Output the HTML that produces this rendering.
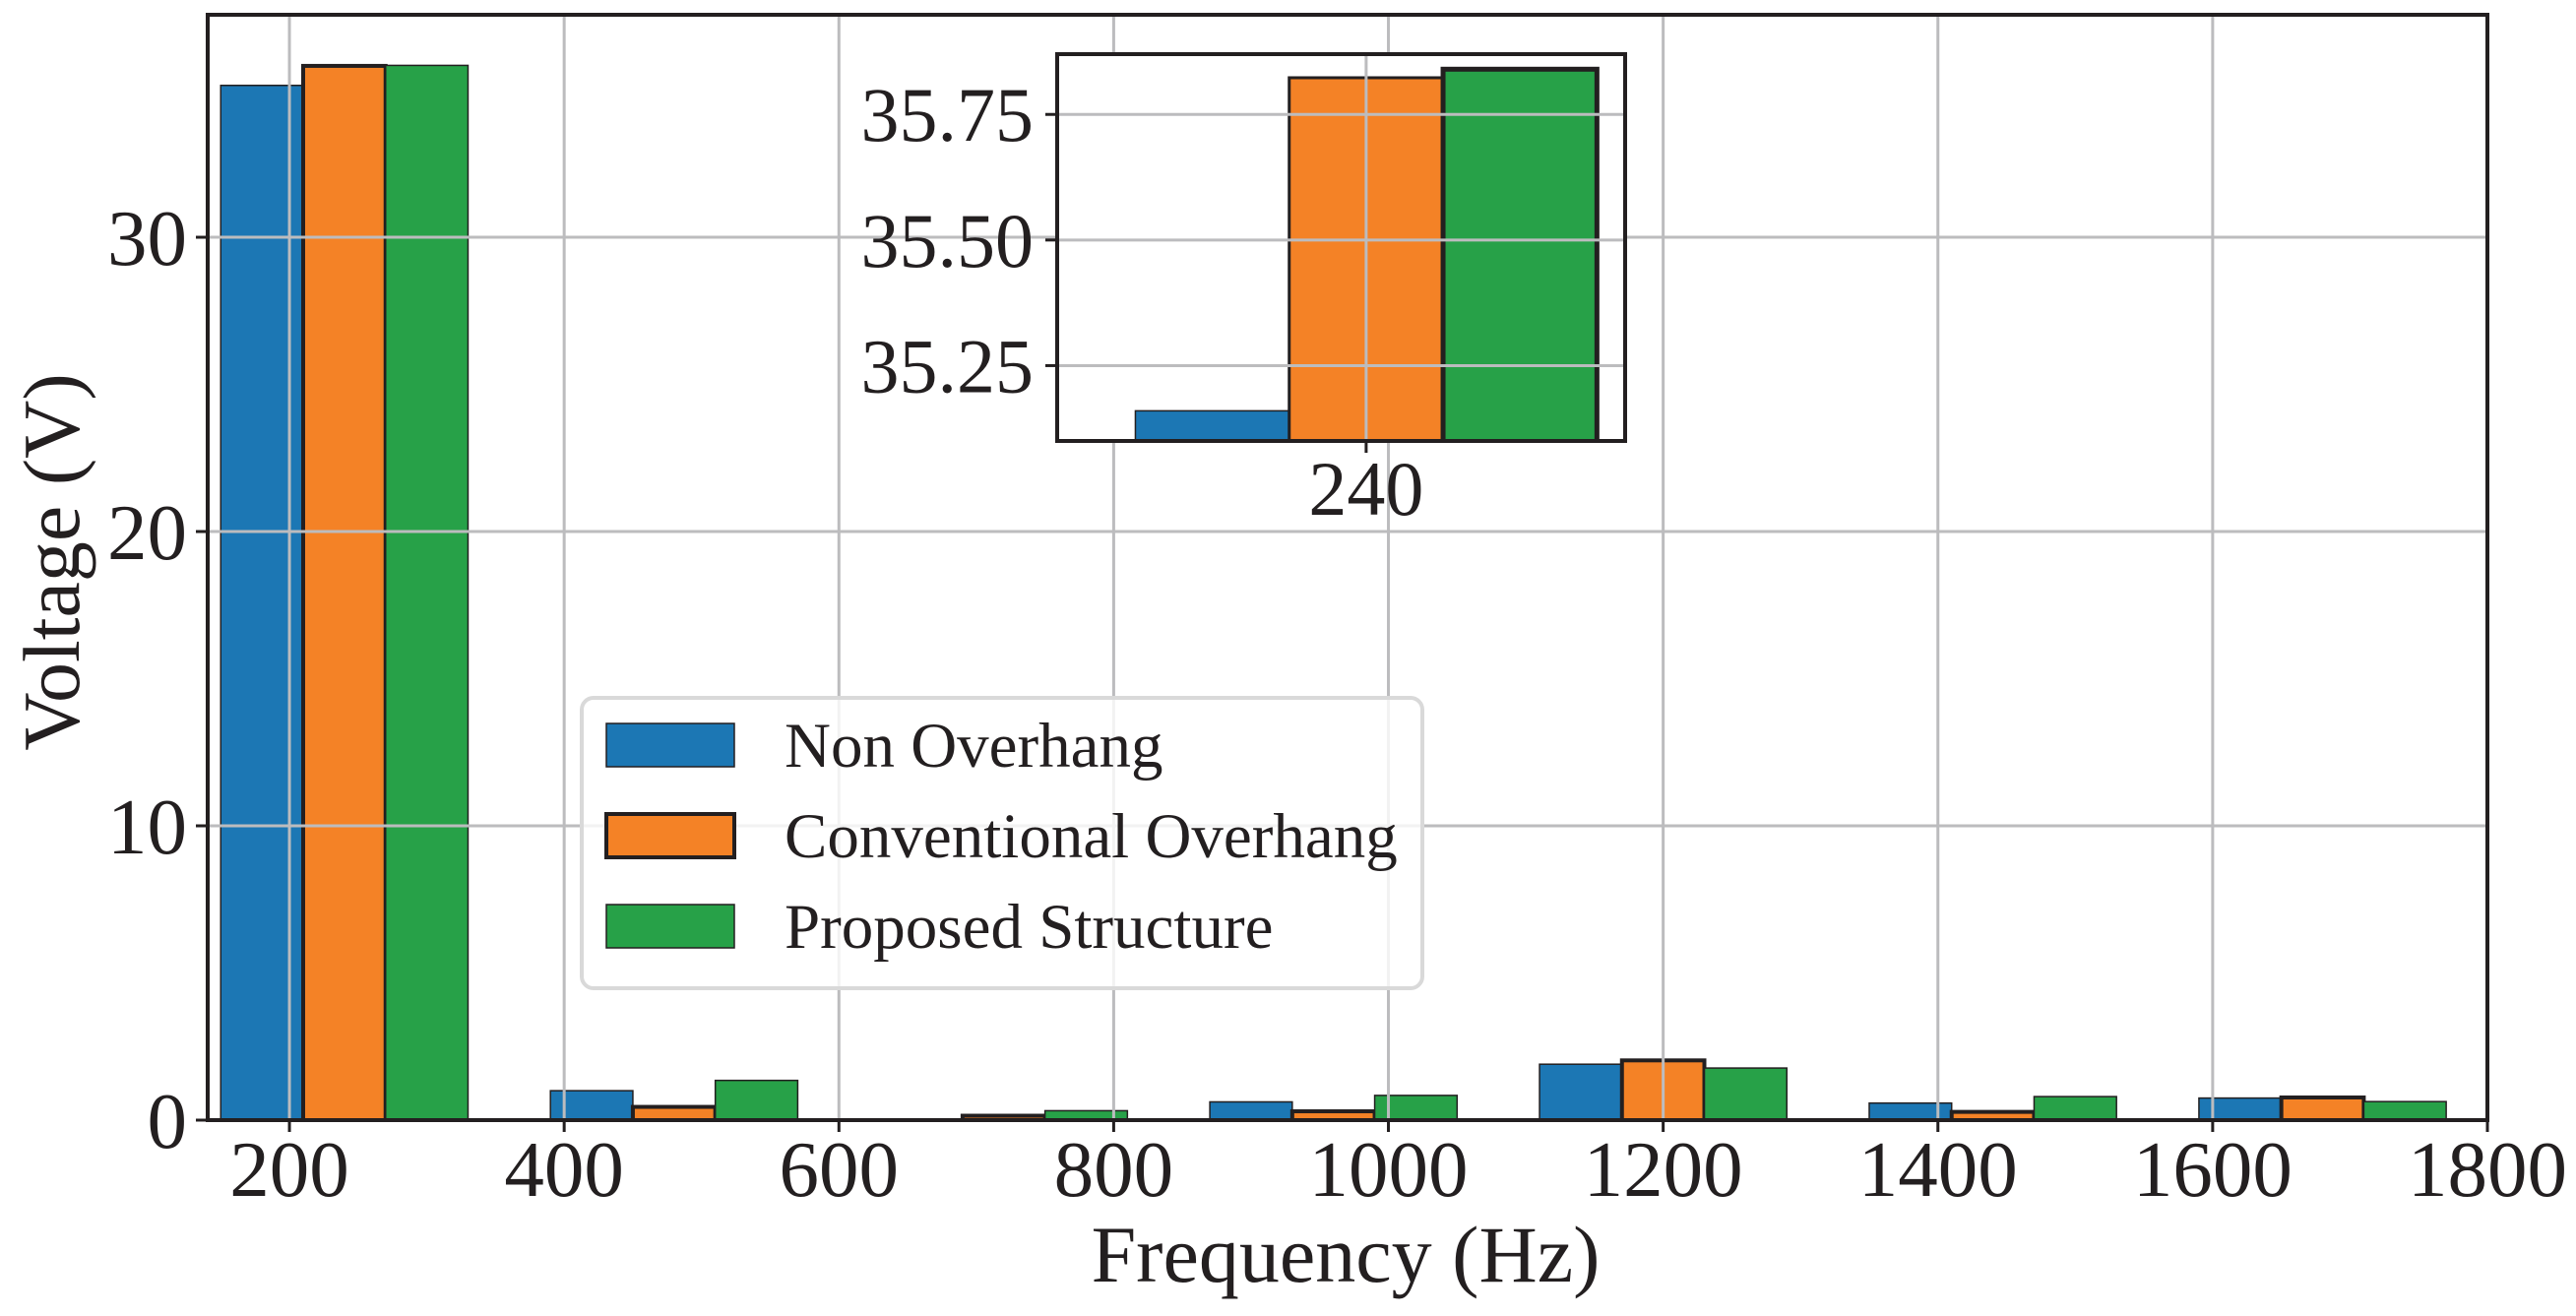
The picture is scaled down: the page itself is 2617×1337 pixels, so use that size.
<!DOCTYPE html>
<html><head><meta charset="utf-8"><style>
html,body{margin:0;padding:0;background:#fff;}
svg{display:block;font-family:"Liberation Serif","Times New Roman",serif;}
</style></head><body>
<svg id="chart" width="2617" height="1337" viewBox="0 0 2617 1337" xmlns="http://www.w3.org/2000/svg"></svg>
<script>
const categories = [240, 480, 720, 960, 1200, 1440, 1680];
const seriesNames = ["Non Overhang", "Conventional Overhang", "Proposed Structure"];
const nonOverhang = [35.16, 1.0, 0.04, 0.62, 1.9, 0.58, 0.75];
const conventional = [35.823, 0.45, 0.15, 0.3, 2.03, 0.28, 0.77];
const proposed = [35.84, 1.35, 0.32, 0.84, 1.77, 0.8, 0.63];
const xTicks = [200, 400, 600, 800, 1000, 1200, 1400, 1600, 1800];
const yTicks = [0, 10, 20, 30];
const insetYTicks = [35.25, 35.50, 35.75];
const insetYTickLabels = ["35.25", "35.50", "35.75"];
const insetXTicks = [240];

const NS = "http://www.w3.org/2000/svg";
const svg = document.getElementById("chart");
const colors = ["#1c77b4", "#f48226", "#27a148"];
const mainEdge = [1.5, 4, 1.5];
const insetEdge = [1.5, 3, 5];
const barW = 60;
const series = [nonOverhang, conventional, proposed];

function mk(tag, attrs, parent) {
  const e = document.createElementNS(NS, tag);
  for (const k in attrs) e.setAttribute(k, attrs[k]);
  (parent || svg).appendChild(e);
  return e;
}

// main axes
const M = {x0: 211, x1: 2527, y0: 1138, y1: 15, xmin: 140.5, xmax: 1800, ymin: 0, ymax: 37.56};
const sx = v => M.x0 + (v - M.xmin) / (M.xmax - M.xmin) * (M.x1 - M.x0);
const sy = v => M.y0 - (v - M.ymin) / (M.ymax - M.ymin) * (M.y0 - M.y1);

const gMain = mk("g", {});



// bars
series.forEach((vals, s) => {
  categories.forEach((c, i) => {
    const xl = sx(c + (s - 1) * barW - barW / 2), xr = sx(c + (s - 1) * barW + barW / 2);
    const r = mk("rect", {x: xl, y: sy(vals[i]), width: xr - xl, height: sy(0) - sy(vals[i]), fill: colors[s], stroke: "#231f20", "stroke-width": mainEdge[s]}, gMain);
    
    
  });
});

// grid
xTicks.forEach(t => {
  const l = mk("line", {x1: sx(t), x2: sx(t), y1: M.y1, y2: M.y0, stroke: "#bcbcbe", "stroke-width": 3}, gMain);
  
  
});
yTicks.forEach(t => {
  const l = mk("line", {x1: M.x0, x2: M.x1, y1: sy(t), y2: sy(t), stroke: "#bcbcbe", "stroke-width": 3}, gMain);
  
  
});

// spines
const frame = mk("rect", {x: M.x0, y: M.y1, width: M.x1 - M.x0, height: M.y0 - M.y1, fill: "none", stroke: "#231f20", "stroke-width": 4}, gMain);



// ticks + labels
xTicks.forEach(t => {
  mk("line", {x1: sx(t), x2: sx(t), y1: M.y0, y2: M.y0 + 12, stroke: "#231f20", "stroke-width": 3}, gMain);
  const tx = mk("text", {x: sx(t), y: 1215, "font-size": 81, "text-anchor": "middle", fill: "#231f20"}, gMain);
  tx.textContent = t;
  
  
});
yTicks.forEach(t => {
  mk("line", {x1: M.x0 - 12, x2: M.x0, y1: sy(t), y2: sy(t), stroke: "#231f20", "stroke-width": 3}, gMain);
  const tx = mk("text", {x: 190, y: sy(t) + 28, "font-size": 81, "text-anchor": "end", fill: "#231f20"}, gMain);
  tx.textContent = t;
  
  
});

const xl = mk("text", {x: 1367, y: 1302, "font-size": 82, "text-anchor": "middle", fill: "#231f20"});
xl.textContent = "Frequency (Hz)";


const yl = mk("text", {x: 0, y: 0, "font-size": 82, "text-anchor": "middle", fill: "#231f20", transform: "translate(80,571) rotate(-90)"});
yl.textContent = "Voltage (V)";



// legend
const gLeg = mk("g", {});


mk("rect", {x: 591, y: 709, width: 854, height: 295, rx: 12, fill: "#fff", "fill-opacity": 0.8, stroke: "#d9d9d9", "stroke-width": 4}, gLeg);
const legY = [757, 849, 941];
seriesNames.forEach((n, s) => {
  const p = mk("rect", {x: 616, y: legY[s] - 22, width: 130, height: 44, fill: colors[s], stroke: "#231f20", "stroke-width": mainEdge[s]}, gLeg);
  
  
  const t = mk("text", {x: 797, y: legY[s] + 22, "font-size": 65, fill: "#231f20"}, gLeg);
  t.textContent = n;
  
  
});

// inset
const I = {x0: 1074, x1: 1651, y0: 448, y1: 55, xmin: 119.5, xmax: 341, ymin: 35.10, ymax: 35.87};
const ix = v => I.x0 + (v - I.xmin) / (I.xmax - I.xmin) * (I.x1 - I.x0);
const iy = v => I.y0 - (v - I.ymin) / (I.ymax - I.ymin) * (I.y0 - I.y1);
const gIn = mk("g", {});


mk("rect", {x: I.x0, y: I.y1, width: I.x1 - I.x0, height: I.y0 - I.y1, fill: "#fff"}, gIn);
const defs = mk("defs", {});
const cp = mk("clipPath", {id: "insetClip"}, defs);
mk("rect", {x: I.x0, y: I.y1, width: I.x1 - I.x0, height: I.y0 - I.y1}, cp);
const gInBars = mk("g", {"clip-path": "url(#insetClip)"}, gIn);
series.forEach((vals, s) => {
  const c = categories[0];
  const xl2 = ix(c + (s - 1) * barW - barW / 2), xr2 = ix(c + (s - 1) * barW + barW / 2);
  const r = mk("rect", {x: xl2, y: iy(vals[0]), width: xr2 - xl2, height: I.y0 + 20 - iy(vals[0]), fill: colors[s], stroke: "#231f20", "stroke-width": insetEdge[s]}, gInBars);
  
  
});
insetXTicks.forEach(t => {
  mk("line", {x1: ix(t), x2: ix(t), y1: I.y1, y2: I.y0, stroke: "#bcbcbe", "stroke-width": 3}, gIn);
  mk("line", {x1: ix(t), x2: ix(t), y1: I.y0, y2: I.y0 + 12, stroke: "#231f20", "stroke-width": 3}, gIn);
  const tx = mk("text", {x: ix(t), y: 523, "font-size": 78, "text-anchor": "middle", fill: "#231f20"}, gIn);
  tx.textContent = t;
  
  
});
insetYTicks.forEach((t, i) => {
  mk("line", {x1: I.x0, x2: I.x1, y1: iy(t), y2: iy(t), stroke: "#bcbcbe", "stroke-width": 3}, gIn);
  mk("line", {x1: I.x0 - 12, x2: I.x0, y1: iy(t), y2: iy(t), stroke: "#231f20", "stroke-width": 3}, gIn);
  const tx = mk("text", {x: 1050, y: iy(t) + 27, "font-size": 78, "text-anchor": "end", fill: "#231f20"}, gIn);
  tx.textContent = insetYTickLabels[i];
  
  
});
mk("rect", {x: I.x0, y: I.y1, width: I.x1 - I.x0, height: I.y0 - I.y1, fill: "none", stroke: "#231f20", "stroke-width": 4}, gIn);
</script>
</body></html>
